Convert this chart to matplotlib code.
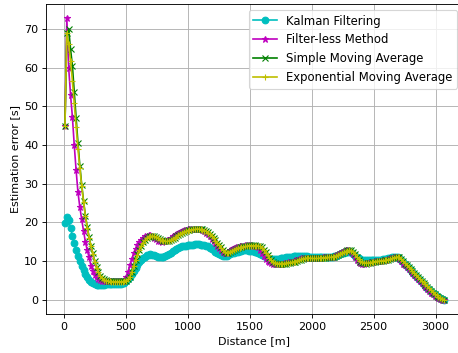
import numpy as np
import matplotlib
matplotlib.use("Agg")
import matplotlib.pyplot as plt

# distance of each sample [m]
distance = np.arange(8, 3069, 15)

kalman = [
    19.8, 21.3, 20.6, 18.6, 16.6, 14.8, 13.0, 11.4, 10.0, 8.7,
    7.6, 6.6, 5.8, 5.2, 4.7, 4.3, 4.0, 3.9, 3.8, 3.8,
    3.9, 3.9, 4.0, 4.0, 4.1, 4.1, 4.1, 4.2, 4.2, 4.2,
    4.2, 4.3, 4.4, 4.8, 5.4, 6.0, 6.7, 7.5, 8.3, 9.0,
    9.7, 10.3, 10.8, 11.2, 11.5, 11.7, 11.8, 11.7, 11.5, 11.3,
    11.1, 11.0, 11.0, 11.1, 11.3, 11.5, 11.8, 12.2, 12.6, 12.9,
    13.2, 13.4, 13.6, 13.8, 13.9, 14.0, 14.1, 14.2, 14.3, 14.3,
    14.4, 14.4, 14.4, 14.3, 14.2, 14.1, 13.9, 13.8, 13.5, 13.2,
    12.9, 12.5, 12.1, 11.8, 11.5, 11.3, 11.3, 11.4, 11.6, 11.8,
    12.0, 12.2, 12.4, 12.5, 12.6, 12.7, 12.8, 12.8, 12.8, 12.7,
    12.6, 12.6, 12.5, 12.4, 12.2, 11.9, 11.6, 11.3, 11.0, 10.8,
    10.6, 10.5, 10.5, 10.5, 10.5, 10.6, 10.7, 10.8, 10.9, 11.0,
    11.0, 11.1, 11.2, 11.3, 11.3, 11.4, 11.4, 11.4, 11.4, 11.3,
    11.3, 11.2, 11.2, 11.1, 11.1, 11.1, 11.1, 11.1, 11.1, 11.1,
    11.1, 11.1, 11.1, 11.2, 11.2, 11.3, 11.4, 11.6, 11.8, 12.0,
    12.2, 12.4, 12.5, 12.5, 12.3, 11.9, 11.4, 11.0, 10.7, 10.5,
    10.4, 10.4, 10.4, 10.4, 10.4, 10.4, 10.4, 10.4, 10.4, 10.4,
    10.4, 10.5, 10.5, 10.6, 10.7, 10.8, 11.0, 11.1, 11.2, 11.1,
    10.8, 10.3, 9.8, 9.2, 8.7, 8.2, 7.7, 7.2, 6.7, 6.2,
    5.7, 5.2, 4.7, 4.2, 3.7, 3.2, 2.7, 2.2, 1.8, 1.4,
    1.0, 0.7, 0.4, 0.2, 0.1,
]

filterless = [
    45.0, 72.8, 60.0, 53.0, 47.3, 40.0, 33.5, 27.8, 24.0, 20.8,
    17.8, 15.0, 12.8, 11.0, 8.8, 7.5, 6.4, 5.8, 5.4, 5.1,
    5.0, 4.9, 4.9, 4.8, 4.8, 4.8, 4.8, 4.9, 4.9, 4.9,
    4.9, 5.0, 5.2, 5.9, 7.3, 8.9, 10.6, 12.0, 13.2, 14.2,
    15.0, 15.6, 16.1, 16.4, 16.6, 16.8, 16.7, 16.4, 16.1, 15.7,
    15.3, 15.1, 15.0, 15.1, 15.2, 15.4, 15.6, 16.0, 16.4, 16.8,
    17.1, 17.3, 17.6, 17.8, 18.0, 18.1, 18.2, 18.3, 18.3, 18.4,
    18.4, 18.4, 18.3, 18.2, 18.0, 17.8, 17.4, 17.0, 16.4, 15.8,
    15.2, 14.6, 14.0, 13.4, 12.8, 12.3, 12.0, 12.1, 12.4, 12.8,
    13.1, 13.4, 13.6, 13.7, 13.8, 13.9, 14.0, 14.1, 14.1, 14.1,
    14.1, 14.0, 14.0, 13.9, 13.6, 13.0, 12.2, 11.4, 10.6, 10.1,
    9.7, 9.5, 9.4, 9.3, 9.3, 9.3, 9.3, 9.4, 9.5, 9.6,
    9.7, 9.8, 9.9, 10.0, 10.2, 10.4, 10.6, 10.7, 10.8, 10.8,
    10.8, 10.7, 10.7, 10.7, 10.7, 10.8, 10.8, 10.9, 10.9, 11.0,
    11.0, 11.0, 11.1, 11.1, 11.2, 11.3, 11.5, 11.8, 12.1, 12.4,
    12.6, 12.8, 12.9, 12.8, 12.4, 11.8, 11.0, 10.3, 9.8, 9.5,
    9.4, 9.4, 9.5, 9.6, 9.7, 9.8, 9.9, 10.0, 10.0, 10.1,
    10.1, 10.2, 10.3, 10.4, 10.5, 10.7, 10.9, 11.1, 11.2, 11.0,
    10.6, 10.0, 9.4, 8.9, 8.4, 7.9, 7.4, 6.9, 6.4, 5.9,
    5.4, 4.9, 4.4, 3.9, 3.4, 2.9, 2.4, 1.9, 1.5, 1.1,
    0.7, 0.4, 0.2, 0.1, 0.0,
]

sma = [
    45.0, 69.0, 70.0, 64.8, 60.5, 53.6, 47.0, 40.5, 34.7, 29.8,
    25.5, 21.8, 18.8, 16.2, 13.9, 12.0, 10.0, 8.4, 7.2, 6.3,
    5.7, 5.3, 5.1, 5.0, 4.9, 4.8, 4.8, 4.8, 4.8, 4.8,
    4.8, 4.8, 4.9, 5.0, 5.3, 6.0, 7.3, 8.8, 10.4, 11.8,
    13.0, 14.0, 14.9, 15.5, 16.0, 16.3, 16.5, 16.6, 16.5, 16.3,
    16.0, 15.7, 15.4, 15.2, 15.1, 15.1, 15.2, 15.4, 15.7, 16.0,
    16.4, 16.8, 17.1, 17.3, 17.6, 17.8, 18.0, 18.1, 18.2, 18.3,
    18.3, 18.4, 18.4, 18.3, 18.2, 18.0, 17.8, 17.5, 17.1, 16.6,
    16.0, 15.4, 14.8, 14.2, 13.6, 13.0, 12.5, 12.2, 12.1, 12.3,
    12.6, 12.9, 13.2, 13.4, 13.6, 13.7, 13.8, 13.9, 14.0, 14.1,
    14.1, 14.1, 14.1, 14.0, 14.0, 13.9, 13.6, 13.0, 12.3, 11.5,
    10.8, 10.2, 9.8, 9.5, 9.4, 9.3, 9.3, 9.3, 9.3, 9.4,
    9.5, 9.6, 9.7, 9.8, 9.9, 10.0, 10.2, 10.4, 10.6, 10.7,
    10.8, 10.8, 10.8, 10.7, 10.7, 10.7, 10.7, 10.8, 10.8, 10.9,
    10.9, 11.0, 11.0, 11.0, 11.1, 11.2, 11.3, 11.5, 11.8, 12.1,
    12.4, 12.6, 12.8, 12.9, 12.8, 12.4, 11.8, 11.1, 10.4, 9.9,
    9.6, 9.5, 9.4, 9.5, 9.6, 9.7, 9.8, 9.9, 10.0, 10.0,
    10.1, 10.1, 10.2, 10.3, 10.4, 10.5, 10.7, 10.9, 11.1, 11.2,
    11.0, 10.6, 10.0, 9.4, 8.9, 8.4, 7.9, 7.4, 6.9, 6.4,
    5.9, 5.4, 4.9, 4.4, 3.9, 3.4, 2.9, 2.4, 1.9, 1.5,
    1.1, 0.7, 0.4, 0.2, 0.1,
]

ema = [
    45.0, 69.0, 66.0, 61.8, 56.6, 50.8, 44.7, 39.0, 34.0, 29.5,
    25.3, 21.7, 18.7, 16.1, 13.8, 11.8, 9.9, 8.3, 7.1, 6.2,
    5.6, 5.2, 5.0, 4.9, 4.8, 4.7, 4.7, 4.7, 4.7, 4.7,
    4.7, 4.7, 4.8, 5.0, 5.3, 6.0, 7.2, 8.7, 10.3, 11.7,
    12.9, 13.9, 14.8, 15.4, 15.9, 16.2, 16.4, 16.5, 16.4, 16.2,
    15.9, 15.6, 15.4, 15.2, 15.1, 15.1, 15.2, 15.4, 15.7, 16.0,
    16.3, 16.7, 17.0, 17.3, 17.5, 17.7, 17.9, 18.0, 18.1, 18.2,
    18.2, 18.3, 18.3, 18.2, 18.1, 17.9, 17.7, 17.4, 17.0, 16.5,
    15.9, 15.3, 14.7, 14.1, 13.5, 12.9, 12.5, 12.2, 12.2, 12.4,
    12.6, 12.9, 13.2, 13.4, 13.5, 13.6, 13.7, 13.8, 13.9, 14.0,
    14.0, 14.0, 14.0, 14.0, 13.9, 13.8, 13.5, 12.9, 12.2, 11.5,
    10.8, 10.2, 9.8, 9.6, 9.4, 9.4, 9.4, 9.4, 9.4, 9.5,
    9.6, 9.6, 9.7, 9.8, 9.9, 10.1, 10.3, 10.5, 10.6, 10.7,
    10.8, 10.8, 10.8, 10.7, 10.7, 10.7, 10.7, 10.8, 10.8, 10.9,
    10.9, 11.0, 11.0, 11.0, 11.1, 11.2, 11.3, 11.5, 11.8, 12.1,
    12.3, 12.5, 12.7, 12.8, 12.7, 12.3, 11.8, 11.1, 10.5, 10.0,
    9.7, 9.5, 9.5, 9.5, 9.6, 9.7, 9.8, 9.9, 10.0, 10.0,
    10.1, 10.1, 10.2, 10.3, 10.4, 10.5, 10.7, 10.9, 11.0, 11.1,
    11.0, 10.6, 10.1, 9.5, 9.0, 8.5, 8.0, 7.5, 7.0, 6.5,
    6.0, 5.5, 5.0, 4.5, 4.0, 3.5, 3.0, 2.5, 2.0, 1.6,
    1.2, 0.8, 0.5, 0.2, 0.1,
]

DPI = 80
fig = plt.figure(figsize=(458 / DPI, 353 / DPI), dpi=DPI)
ax = fig.add_axes([46 / 458, 39 / 353, 417 / 458, 310 / 353])

ax.plot(distance, kalman, color="c", marker="o", label="Kalman Filtering")
ax.plot(distance, filterless, color="m", marker="*", label="Filter-less Method")
ax.plot(distance, sma, color="g", marker="x", label="Simple Moving Average")
ax.plot(distance, ema, color="y", marker="+", label="Exponential Moving Average")

ax.set_xticks([0, 500, 1000, 1500, 2000, 2500, 3000])
ax.set_yticks([0, 10, 20, 30, 40, 50, 60, 70])
ax.set_xlabel("Distance [m]")
ax.set_ylabel("Estimation error [s]")
ax.grid(True)
ax.legend(loc="upper right", fontsize=10.5)

fig.savefig("out.png", dpi=DPI)
